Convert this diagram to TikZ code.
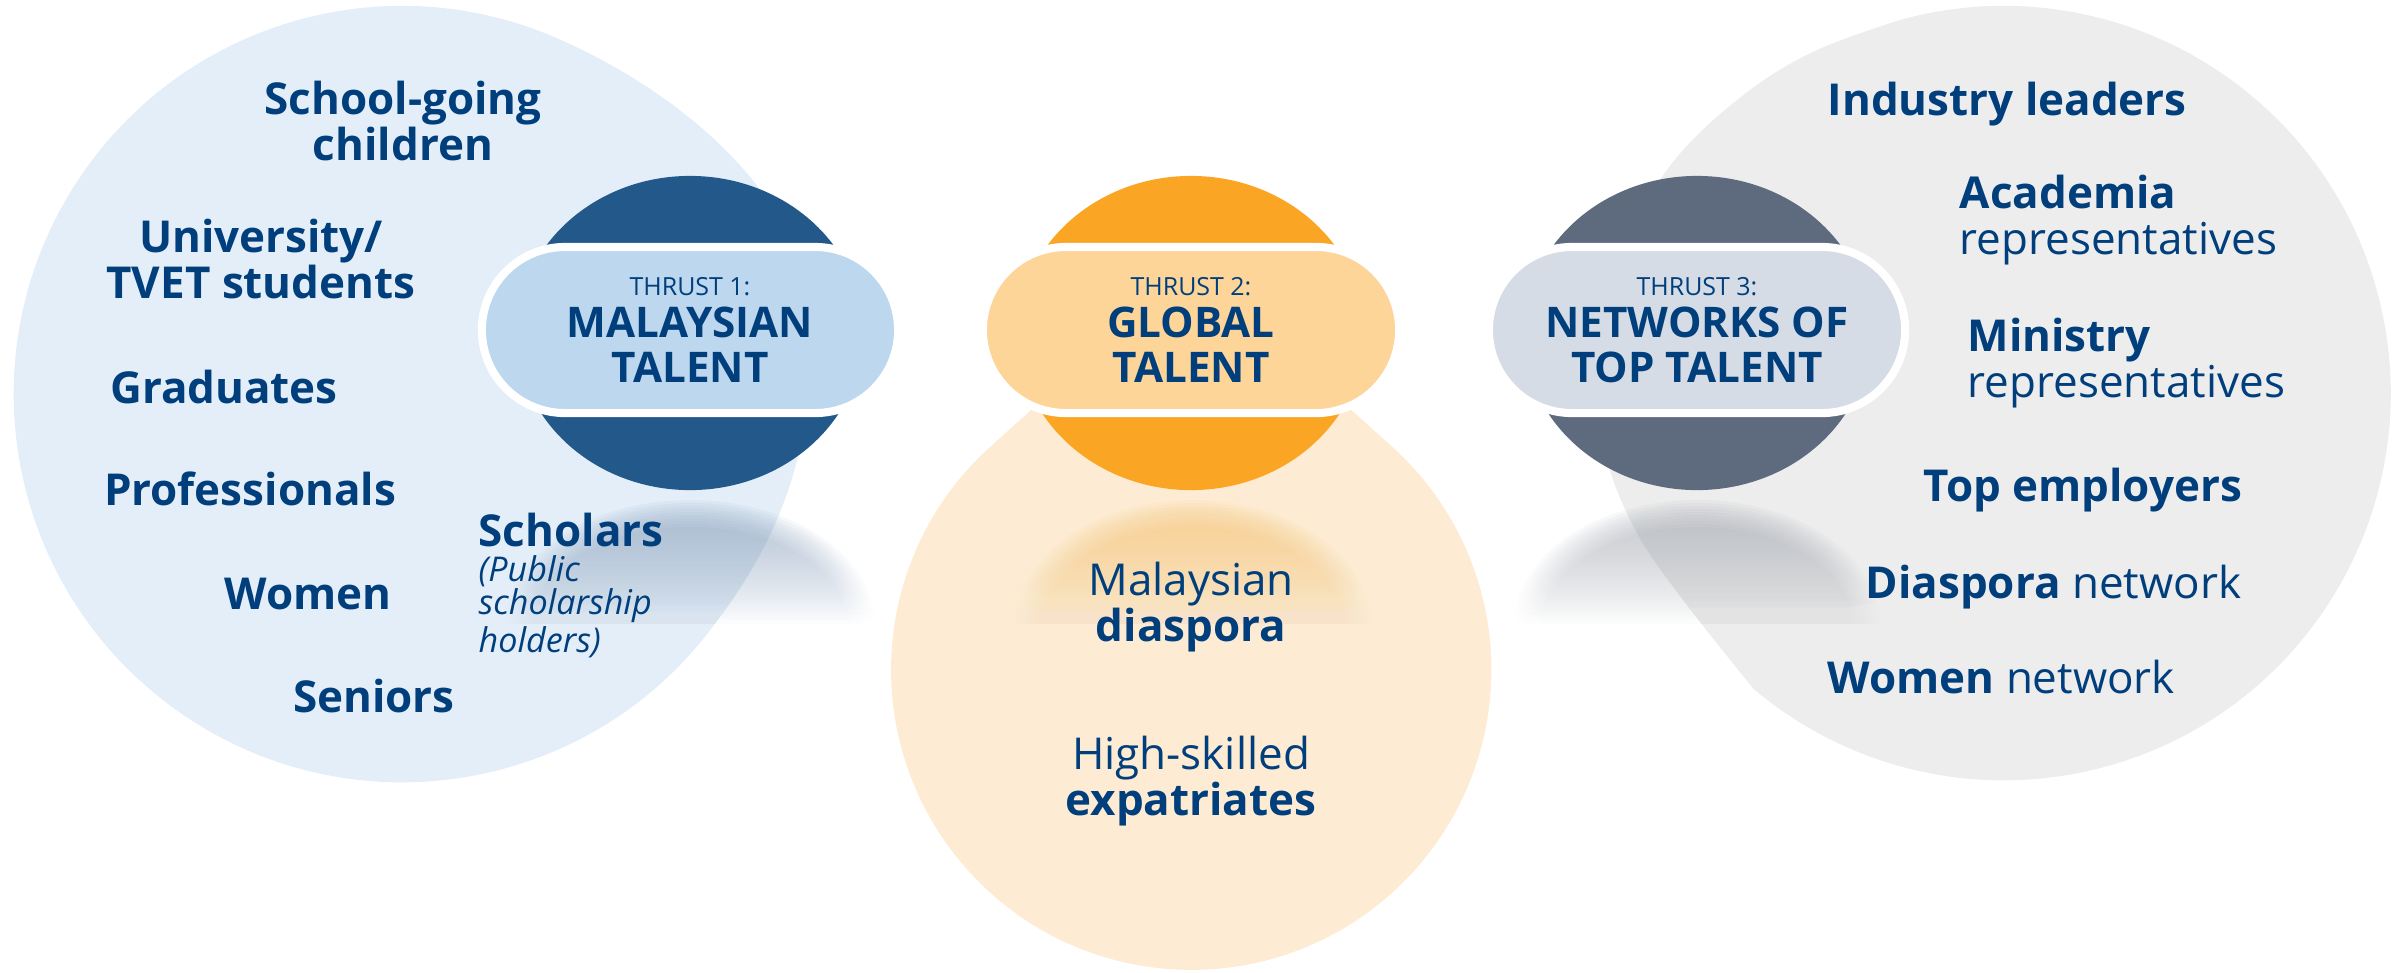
\documentclass[tikz,border=0pt]{standalone}
\usepackage{fontspec}
\setmainfont{Open Sans}
\usetikzlibrary{fadings}

\definecolor{inkblue}{RGB}{0,62,124}
\definecolor{talentblue}{RGB}{35,88,138}
\definecolor{pillblue}{RGB}{189,215,238}
\definecolor{blobblue}{RGB}{227,238,248}
\definecolor{talentorange}{RGB}{250,165,35}
\definecolor{pillorange}{RGB}{253,213,153}
\definecolor{bloborange}{RGB}{253,236,211}
\definecolor{talentgray}{RGB}{94,106,125}
\definecolor{pillgray}{RGB}{214,220,229}
\definecolor{blobgray}{RGB}{237,237,237}
\definecolor{shadeblue}{RGB}{150,170,195}
\definecolor{shadegray}{RGB}{172,176,184}
\definecolor{shadeorange}{RGB}{248,201,126}

\tikzfading[name=fadedown, top color=transparent!0, bottom color=transparent!100]

\newcommand{\groupfont}{\fontsize{12.5}{13}\selectfont\bfseries}
\newcommand{\titlefont}{\fontsize{12}{12.8}\selectfont\bfseries}
\newcommand{\thrustfont}{\fontsize{7.1}{8}\selectfont\mdseries}
\newcommand{\notefont}{\fontsize{9.7}{9.5}\selectfont\mdseries\itshape}

% soft reflection under a thrust circle
\newcommand{\dome}[3]{%
  \foreach \d in {-14,-11,...,13}
    \fill[#1, opacity=0.1, path fading=fadedown]
      ({#2-#3-\d},625) arc[start angle=180, end angle=0, x radius={(#3+\d)*0.01cm}, y radius={(112+\d)*0.01cm}] -- cycle;}

\begin{document}
\begin{tikzpicture}[x=0.01cm, y=-0.01cm,
    pill/.style={draw=white, line width=2.3pt, rounded corners=0.83cm, minimum width=4.16cm, minimum height=1.66cm, inner sep=0pt, text=inkblue, align=center, font=\titlefont},
    group/.style={text=inkblue, font=\groupfont, align=center, anchor=base, inner sep=0pt},
    groupleft/.style={group, align=left, anchor=base west},
    note/.style={groupleft, font=\notefont}]
	\useasboundingbox (0,0) rectangle (2394,972);

	% background blobs
	\fill[blobblue] (714,625) arc[start angle=-36.5, end angle=-292.5, radius=3.88cm]
		.. controls (680,90) and (812,200) .. (812,330)
		.. controls (812,450) and (782,536) .. (714,625) -- cycle;
	\fill[blobgray] (1900,20) arc[start angle=105.5, end angle=-130.3, radius=3.87cm]
		-- plot[smooth, tension=0.6] coordinates {(1752,687) (1683,600) (1637,533) (1607,460) (1597,380) (1608,300) (1640,215) (1683,150) (1750,90) (1817,50) (1900,20)} -- cycle;
	\fill[bloborange] (1191,266) -- (990,447) arc[start angle=132.1, end angle=407.9, radius=3cm] -- cycle;

	\dome{shadeblue}{690}{172}
	\dome{shadeorange}{1193}{165}
	\dome{shadegray}{1697}{170}

	% thrust circles
	\fill[talentblue] (690,333) ellipse[x radius=1.73cm, y radius=1.57cm];
	\fill[talentorange] (1191,333) ellipse[x radius=1.73cm, y radius=1.57cm];
	\fill[talentgray] (1697,333) ellipse[x radius=1.73cm, y radius=1.57cm];

	\node[pill, fill=pillblue] (t1) at (690,330) {{\thrustfont THRUST 1:}\\[-1pt] MALAYSIAN\\ TALENT};
	\node[pill, fill=pillorange] (t2) at (1191,330) {{\thrustfont THRUST 2:}\\[-1pt] GLOBAL\\ TALENT};
	\node[pill, fill=pillgray] (t3) at (1697,330) {{\thrustfont THRUST 3:}\\[-1pt] NETWORKS OF\\ TOP TALENT};

	% thrust 1 groups
	\node[group] (school) at (403,160) {School-going\\ children};
	\node[group] (univ) at (261,298) {University/\\ TVET students};
	\node[group] (grad) at (224,403) {Graduates};
	\node[group] (prof) at (250,505) {Professionals};
	\node[group] (women) at (308,609) {Women};
	\node[group] (senior) at (374,712) {Seniors};
	\node[groupleft] (scholar) at (478,546) {Scholars};
	\node[note] (public) at (478,652) {(Public\\ scholarship\\ holders)};

	% thrust 2 groups
	\node[group] (diaspora) at (1191,641) {{\mdseries Malaysian}\\ diaspora};
	\node[group] (expat) at (1191,815) {{\mdseries High-skilled}\\ expatriates};

	% thrust 3 groups
	\node[groupleft] (industry) at (1827,115) {Industry leaders};
	\node[groupleft] (academia) at (1959,254) {Academia\\ {\mdseries representatives}};
	\node[groupleft] (ministry) at (1967,397) {Ministry\\ {\mdseries representatives}};
	\node[groupleft] (employer) at (1923,501) {Top employers};
	\node[groupleft] (dnet) at (1865,598) {Diaspora {\mdseries network}};
	\node[groupleft] (wnet) at (1827,693) {Women {\mdseries network}};
\end{tikzpicture}
\end{document}
